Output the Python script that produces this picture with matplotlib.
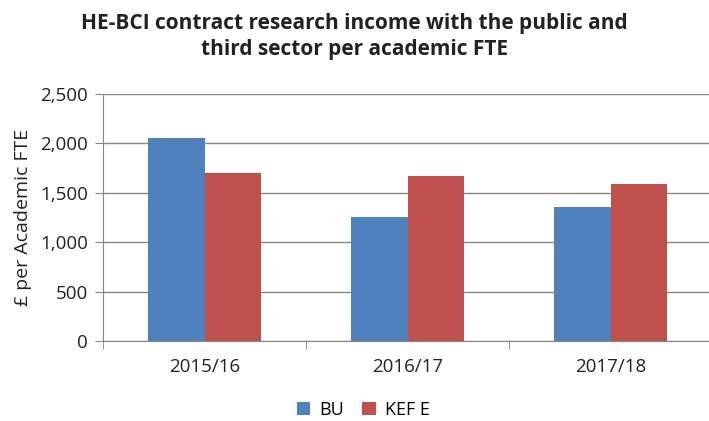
import matplotlib.pyplot as plt
import numpy as np

# Income per academic FTE (GBP)
years = ["2015/16", "2016/17", "2017/18"]
bu = [2057, 1260, 1361]
kef_e = [1696, 1668, 1587]
y_ticks = [0, 500, 1000, 1500, 2000, 2500]

plt.rcParams["font.family"] = ["Open Sans", "DejaVu Sans"]

fig = plt.figure(figsize=(7.09, 4.21), dpi=100)
ax = fig.add_axes([103 / 709, 1 - 341 / 421, 609 / 709, (341 - 94) / 421])

x = np.arange(len(years))
w = 0.28
ax.bar(x - w / 2, bu, width=w, color="#4F81BD", label="BU", zorder=3)
ax.bar(x + w / 2, kef_e, width=w, color="#C0504D", label="KEF E", zorder=3)

ax.set_xlim(-0.5, len(years) - 0.5)
ax.set_ylim(0, 2500)
ax.set_yticks(y_ticks)
ax.set_yticklabels([f"{v:,}" for v in y_ticks], fontsize=13.5, color="#222222")
ax.set_xticks(x)
ax.set_xticklabels(years, fontsize=13.5, color="#222222")
ax.set_xticks([-0.5, 0.5, 1.5, 2.5], minor=True)
ax.tick_params(axis="x", which="major", length=0, pad=12)
ax.tick_params(axis="x", which="minor", length=6, color="#868686")
ax.tick_params(axis="y", length=6, color="#868686", pad=5)

ax.grid(axis="y", color="#868686", linewidth=1, zorder=0)
for side in ("top", "right"):
    ax.spines[side].set_visible(False)
for side in ("left", "bottom"):
    ax.spines[side].set_color("#868686")

ax.set_ylabel("£ per Academic FTE", fontsize=14, color="#222222", labelpad=6)

fig.text(0.5, 0.945, "HE-BCI contract research income with the public and",
         ha="center", va="center", fontsize=15, fontweight="bold", color="#222222")
fig.text(0.5, 0.882, "third sector per academic FTE",
         ha="center", va="center", fontsize=15, fontweight="bold", color="#222222")

fig.legend(loc="center", bbox_to_anchor=(0.512, 0.027), ncol=2, frameon=False,
           fontsize=13, handlelength=0.75, handleheight=0.75, columnspacing=1.0,
           handletextpad=0.5)

fig.savefig("out.png", dpi=100)
